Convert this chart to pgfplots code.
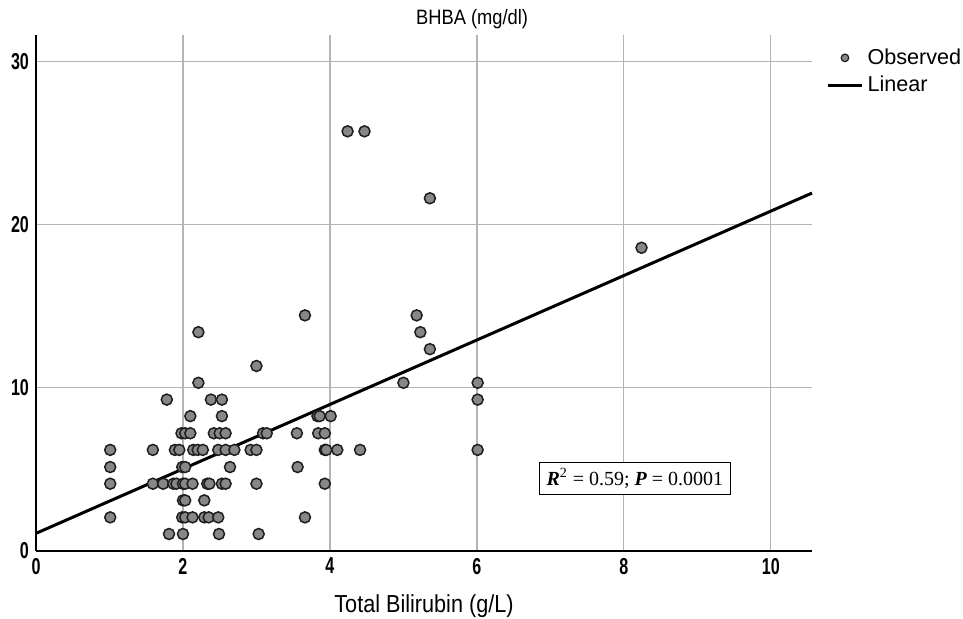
\documentclass[border=0pt]{standalone}
\usepackage{fontspec}
\usepackage{pgfplots}
\usepackage{pgfplotstable}
\pgfplotsset{compat=1.18}
\setmainfont{Liberation Sans}
\newfontfamily\tickfont[FakeStretch=0.7]{Liberation Sans}
\newfontfamily\labelfont[FakeStretch=0.88]{Liberation Sans}
\newfontfamily\annfont{Liberation Serif}

\definecolor{dotfill}{HTML}{878787}
\definecolor{dotedge}{HTML}{1E1E1E}
\definecolor{gridgray}{HTML}{B4B4B4}

% BHBA (mg/dl) vs total bilirubin (g/L)
\pgfplotstableread{
x y
1.81 1.04
2.00 1.04
2.49 1.04
3.03 1.04
1.01 2.06
1.99 2.06
2.03 2.06
2.13 2.06
2.29 2.06
2.35 2.06
2.48 2.06
3.66 2.06
2.00 3.10
2.03 3.10
2.29 3.10
1.01 4.12
1.59 4.12
1.73 4.12
1.87 4.12
1.91 4.12
2.00 4.12
2.03 4.12
2.13 4.12
2.33 4.12
2.36 4.12
2.53 4.12
2.58 4.12
3.00 4.12
3.93 4.12
1.01 5.14
1.99 5.14
2.03 5.14
2.64 5.14
3.56 5.14
1.01 6.19
1.59 6.19
1.89 6.19
1.95 6.19
2.14 6.19
2.20 6.19
2.27 6.19
2.48 6.19
2.58 6.19
2.70 6.19
2.92 6.19
3.00 6.19
3.93 6.19
3.95 6.19
4.10 6.19
4.41 6.19
6.01 6.19
1.98 7.21
2.03 7.21
2.10 7.21
2.42 7.21
2.50 7.21
2.58 7.21
3.09 7.21
3.14 7.21
3.55 7.21
3.84 7.21
3.93 7.21
2.10 8.26
2.53 8.26
3.83 8.26
3.86 8.26
4.01 8.26
1.78 9.27
2.38 9.27
2.53 9.27
6.01 9.27
2.21 10.30
5.00 10.30
6.01 10.30
3.00 11.33
5.36 12.36
2.21 13.40
5.23 13.40
3.66 14.43
5.18 14.43
8.24 18.57
5.36 21.60
4.24 25.70
4.47 25.70
}\observed

\begin{document}
\begin{tikzpicture}
\path[use as bounding box] (-18pt,-34pt) rectangle (463.5pt,275.5pt);
\begin{axis}[
    scale only axis,
    width=388pt, height=258pt,
    xmin=0, xmax=10.56,
    ymin=0, ymax=31.6,
    xtick={0,2,4,6,8,10},
    ytick={0,10,20,30},
    axis x line*=bottom,
    axis y line*=left,
    axis line style={line width=1pt, black, -},
    major tick length=0pt,
    grid=major,
    grid style={gridgray, line width=0.6pt},
    /pgf/number format/assume math mode=true,
    tick label style={font=\tickfont\bfseries\fontsize{11.5}{13}\selectfont},
    xlabel={Total Bilirubin (g/L)},
    xlabel style={at={(axis description cs:0.5,-0.107)}, anchor=center,
        font=\labelfont\fontsize{12.3}{14}\selectfont},
    clip=false,
    legend style={draw=none, fill=none,
        at={(axis description cs:1.018,0.99)}, anchor=north west,
        font=\fontsize{10.8}{12}\selectfont,
        row sep=0.5pt, inner xsep=0pt},
    legend cell align=left,
]
\addplot[only marks, mark=*, mark size=2.75pt,
    mark options={fill=dotfill, draw=dotedge, line width=0.75pt},
    legend image code/.code={%
        \draw[mark=*, mark size=1.9pt, mark options={fill=dotfill, draw=dotedge, line width=0.6pt}]
        plot coordinates {(0.3cm,0cm)};}]
    table[x=x, y=y] {\observed};
\addlegendentry{Observed}

\addplot[black, line width=1.5pt] coordinates {(0,1.08) (10.56,21.92)};
\addlegendentry{Linear}

\node[draw=black, line width=0.6pt, fill=white, inner xsep=3.5pt, inner ysep=3pt,
    font=\annfont\fontsize{10}{12}\selectfont]
    at (axis cs:8.15,4.45)
    {{\bfseries\itshape R}\textsuperscript{2} = 0.59; {\bfseries\itshape P} = 0.0001};

\node[font=\labelfont\fontsize{10.4}{12}\selectfont] at (rel axis cs:0.562,1.03) {BHBA (mg/dl)};
\end{axis}
\end{tikzpicture}
\end{document}
